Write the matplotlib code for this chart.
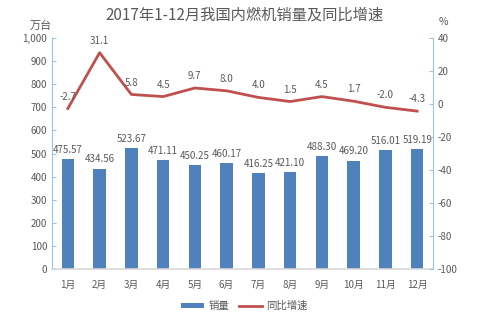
import matplotlib
matplotlib.use("Agg")
import matplotlib.pyplot as plt
import numpy as np

plt.rcParams['font.family'] = ['Noto Sans CJK SC', 'DejaVu Sans']
plt.rcParams['axes.unicode_minus'] = False

months = ['1月', '2月', '3月', '4月', '5月', '6月', '7月', '8月', '9月', '10月', '11月', '12月']
sales = [475.57, 434.56, 523.67, 471.11, 450.25, 460.17, 416.25, 421.10, 488.30, 469.20, 516.01, 519.19]
growth = [-2.7, 31.1, 5.8, 4.5, 9.7, 8.0, 4.0, 1.5, 4.5, 1.7, -2.0, -4.3]

bar_color = '#4F81BD'
line_color = '#C0504D'
txt = '#595959'

fig = plt.figure(figsize=(4.89, 3.25), dpi=100)
ax = fig.add_axes([0.1063, 0.1723, 0.7792, 0.7107])
ax2 = ax.twinx()

x = np.arange(len(months))
bars = ax.bar(x, sales, width=0.4, color=bar_color, label='销量', zorder=2)
ax.set_xlim(-0.5, len(months) - 0.5)
ax.set_ylim(0, 1000)
ax.set_yticks(np.arange(0, 1001, 100))
ax.set_yticklabels([f'{v:,}' for v in range(0, 1001, 100)])
ax.set_xticks(x)
ax.set_xticklabels(months)

line, = ax2.plot(x, growth, color=line_color, lw=2, label='同比增速', zorder=3)
ax2.set_ylim(-100, 40)
ax2.set_yticks(np.arange(-100, 41, 20))

for a in (ax, ax2):
    for s in a.spines.values():
        s.set_visible(False)
    a.tick_params(labelsize=7, colors=txt, length=3, direction='in', width=0.8)
ax.spines['left'].set_visible(True)
ax.spines['left'].set_color('#9DC3E6')
ax.spines['bottom'].set_visible(True)
ax.spines['bottom'].set_color('#D9D9D9')
ax.spines['bottom'].set_linewidth(1.2)
ax2.spines['right'].set_visible(True)
ax2.spines['right'].set_color('#9DC3E6')
ax.tick_params(axis='x', length=0, pad=8)
ax.tick_params(axis='y', color='#9DC3E6')
ax2.tick_params(axis='y', color='#9DC3E6')

for xi, v in zip(x, sales):
    ax.annotate(f'{v:.2f}', (xi, v), xytext=(0, 3), textcoords='offset points',
                ha='center', va='bottom', fontsize=7, color=txt)
for xi, v in zip(x, growth):
    ax2.annotate(f'{v:.1f}', (xi, v), xytext=(0, 5), textcoords='offset points',
                 ha='center', va='bottom', fontsize=7, color=txt)

fig.text(0.5, 0.955, '2017年1-12月我国内燃机销量及同比增速', ha='center', va='center',
         fontsize=11, color=txt, fontweight='medium')
fig.text(0.083, 0.922, '万台', ha='center', va='center', fontsize=8, color=txt)
fig.text(0.907, 0.932, '%', ha='center', va='center', fontsize=7.5, color=txt)

fig.legend([bars, line], ['销量', '同比增速'], loc='center', bbox_to_anchor=(0.5, 0.058),
           ncol=2, frameon=False, fontsize=7.5, labelcolor=txt, handlelength=2.2,
           handleheight=0.4, columnspacing=1.0, handletextpad=0.4)

fig.savefig('out.png', dpi=100)
